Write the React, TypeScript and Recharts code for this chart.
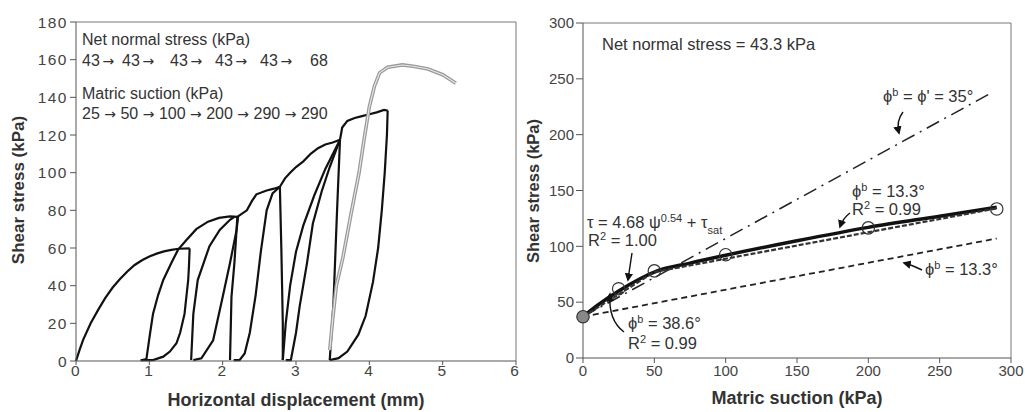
import React from "react";
import {
    LineChart,
    ComposedChart,
    Line,
    Scatter,
    XAxis,
    YAxis,
    ReferenceLine,
} from "recharts";

// ---- left panel: shear stress vs horizontal displacement ----
type P = [number, number];

const dispTicks = [0, 1, 2, 3, 4, 5, 6];
const stressTicks = [0, 20, 40, 60, 80, 100, 120, 140, 160, 180];

const firstLoading: P[] = [
    [0, 0], [0.05, 6], [0.1, 11.5], [0.2, 20], [0.3, 27], [0.4, 33.5], [0.5, 39], [0.6, 43.5],
    [0.7, 47.5], [0.8, 51], [0.9, 53.5], [1.0, 55.5], [1.1, 57], [1.2, 58.2], [1.3, 59], [1.4, 59.6], [1.55, 59.8],
];
const reload1: P[] = [
    [0.9, 0.5], [0.96, 1], [1.0, 12], [1.05, 25], [1.12, 35], [1.19, 43], [1.3, 52], [1.39, 59],
    [1.5, 64], [1.64, 70], [1.8, 74], [1.95, 76], [2.1, 76.8], [2.2, 76.5],
];
const unload1: P[] = [
    [1.55, 59.8], [1.54, 50], [1.53, 43], [1.48, 25], [1.42, 15], [1.37, 9.4], [1.28, 5],
    [1.19, 2.3], [1.05, 0.5], [0.88, 0.5],
];
const reload2: P[] = [
    [1.57, 0.5], [1.6, 25], [1.66, 43], [1.82, 61], [1.96, 69.6], [2.1, 75], [2.16, 76.6],
];
const curve2: P[] = [
    [1.6, 0.5], [1.71, 1.4], [1.87, 11], [2.0, 34], [2.1, 52], [2.19, 69.6], [2.21, 76.5],
];
const reload3: P[] = [
    [2.1, 0.5], [2.12, 34], [2.16, 52], [2.19, 70], [2.2, 76.5], [2.33, 80], [2.4, 85],
    [2.46, 88.5], [2.6, 90.5], [2.7, 91.5], [2.78, 92.5],
];
const curve3: P[] = [
    [2.15, 0.5], [2.23, 0.5], [2.3, 4], [2.37, 15], [2.45, 35], [2.52, 58], [2.6, 80], [2.68, 89], [2.78, 92.5],
];
const drop3: P[] = [[2.78, 92.5], [2.8, 60], [2.82, 20], [2.82, 0.5]];
const reload4: P[] = [
    [2.78, 92.5], [2.85, 97], [2.92, 100], [3.0, 103], [3.1, 106], [3.2, 110], [3.3, 113],
    [3.4, 115], [3.5, 116], [3.6, 117.5],
];
const curve4a: P[] = [
    [2.82, 0.5], [2.86, 20], [2.92, 40], [3.0, 58], [3.1, 72], [3.25, 88], [3.4, 102], [3.6, 117.5],
];
const curve4b: P[] = [
    [2.86, 0.5], [2.93, 0.5], [3.0, 15], [3.05, 29], [3.15, 52], [3.23, 73], [3.35, 90], [3.46, 103], [3.6, 117.5],
];
const drop4: P[] = [[3.6, 117.5], [3.56, 80], [3.51, 30], [3.46, 0.5]];
const reload5: P[] = [
    [3.6, 117.5], [3.63, 124], [3.7, 127.5], [3.8, 129], [3.9, 130], [4.0, 131], [4.1, 132],
    [4.2, 133.3], [4.25, 133],
];
const unload5: P[] = [
    [4.25, 133], [4.24, 120], [4.21, 100], [4.17, 80], [4.12, 60], [4.05, 42], [3.95, 24],
    [3.85, 14], [3.7, 5], [3.58, 1.5], [3.46, 0.5],
];
const finalStage: P[] = [
    [3.46, 5.8], [3.5, 22], [3.55, 40], [3.64, 55], [3.75, 78], [3.86, 100], [3.93, 118],
    [4.0, 135], [4.07, 146], [4.14, 153], [4.25, 156], [4.45, 157.2], [4.6, 156.5],
    [4.8, 155], [5.0, 152], [5.18, 147.5],
];

const blackCurves = [
    firstLoading, reload1, unload1, reload2, curve2, reload3, curve3,
    drop3, reload4, curve4a, curve4b, drop4, reload5, unload5,
];

const normalStress = ["43", "43", "43", "43", "43", "68"];
const suctionSteps = ["25", "50", "100", "200", "290", "290"];

// ---- right panel: shear stress vs matric suction ----
const suctionTicks = [0, 50, 100, 150, 200, 250, 300];
const shearTicks = [0, 50, 100, 150, 200, 250, 300];

const measured: P[] = [[25, 62], [50, 78], [100, 92.5], [200, 116.5], [290, 133.5]];
const saturated: P[] = [[0, 37]];
const powerFit: P[] = [
    [0, 37], [10, 47], [25, 60], [40, 71], [50, 77], [75, 85],
    [100, 92], [150, 105], [200, 117], [250, 127], [290, 135],
];
const bilinearFit: P[] = [[0, 37], [50, 77], [290, 134]];
const phiPrimeLine: P[] = [[0, 37], [287, 238]];
const phiB13Line: P[] = [[0, 37], [290, 107]];

const toPts = (arr: P[]) => arr.map(([x, y]) => ({ x, y }));

const FONT = '"Liberation Sans", Arial, sans-serif';
const ARROW_FONT = '"DejaVu Sans", sans-serif';
const leftTick = { fontSize: 15.5, fill: "#444", fontFamily: FONT, letterSpacing: 1.5 };
const rightTick = { fontSize: 15, fill: "#444", fontFamily: FONT };

function Sup({ children }: { children: React.ReactNode }) {
    return (
        <tspan baselineShift="super" fontSize={11}>
            {children}
        </tspan>
    );
}

function Arr({ wide }: { wide?: boolean }) {
    const gap = wide ? "\u00a0" : "\u2009";
    return <tspan fontFamily={ARROW_FONT} fontSize={14}>{gap + "→" + gap}</tspan>;
}

// x positions of the stress chunks in the note
const stressX = [82, 122, 170, 215, 260, 310];

export default function App() {
    return (
        <div style={{ position: "absolute", left: 0, top: 0, width: 1025, height: 412, background: "#fff" }}>
            <div style={{ position: "absolute", left: 0, top: 0 }}>
                <LineChart width={520} height={412} margin={{ top: 22, right: 4, bottom: 21, left: 30 }}>
                    <XAxis
                        type="number"
                        dataKey="x"
                        domain={[0, 6]}
                        ticks={dispTicks}
                        height={30}
                        stroke="#555"
                        tickSize={4}
                        tickMargin={0}
                        tick={leftTick}
                    />
                    <YAxis
                        type="number"
                        dataKey="y"
                        domain={[0, 180]}
                        ticks={stressTicks}
                        width={46}
                        stroke="#555"
                        tickSize={6}
                        tickMargin={2}
                        tick={leftTick}
                    />
                    <ReferenceLine y={180} stroke="#777" />
                    <ReferenceLine x={6} stroke="#777" />
                    {blackCurves.map((c, i) => (
                        <Line
                            key={i}
                            data={toPts(c)}
                            dataKey="y"
                            type="linear"
                            stroke="#111"
                            strokeWidth={2.2}
                            dot={false}
                            activeDot={false}
                            isAnimationActive={false}
                        />
                    ))}
                    <Line data={toPts(finalStage)} dataKey="y" type="linear" stroke="#9a9a9a" strokeWidth={3.6}
                        dot={false} activeDot={false} isAnimationActive={false} />
                    <Line data={toPts(finalStage)} dataKey="y" type="linear" stroke="#e8e8e8" strokeWidth={1.1}
                        dot={false} activeDot={false} isAnimationActive={false} />
                </LineChart>
            </div>

            <div style={{ position: "absolute", left: 520, top: 0 }}>
                <ComposedChart width={505} height={412} margin={{ top: 23, right: 14, bottom: 24, left: 20 }}>
                    <XAxis
                        type="number"
                        dataKey="x"
                        domain={[0, 300]}
                        ticks={suctionTicks}
                        height={30}
                        stroke="#555"
                        tickSize={5}
                        tickMargin={2}
                        tick={rightTick}
                    />
                    <YAxis
                        type="number"
                        dataKey="y"
                        domain={[0, 300]}
                        ticks={shearTicks}
                        width={43}
                        stroke="#555"
                        tickSize={7}
                        tickMargin={2}
                        tick={rightTick}
                    />
                    <ReferenceLine y={300} stroke="#777" />
                    <ReferenceLine x={300} stroke="#777" />
                    <Line data={toPts(phiPrimeLine)} dataKey="y" type="linear" stroke="#222" strokeWidth={1.5}
                        strokeDasharray="14 6 2 6" dot={false} activeDot={false} isAnimationActive={false} />
                    <Line data={toPts(phiB13Line)} dataKey="y" type="linear" stroke="#222" strokeWidth={1.8}
                        strokeDasharray="6 4" dot={false} activeDot={false} isAnimationActive={false} />
                    <Line data={toPts(powerFit)} dataKey="y" type="monotone" stroke="#111" strokeWidth={3.5}
                        dot={false} activeDot={false} isAnimationActive={false} />
                    <Line data={toPts(bilinearFit)} dataKey="y" type="linear" stroke="#333" strokeWidth={2.2}
                        strokeDasharray="5 2" dot={false} activeDot={false} isAnimationActive={false} />
                    <Scatter
                        data={toPts(measured)}
                        dataKey="y"
                        isAnimationActive={false}
                        shape={(p: any) => (
                            <circle cx={p.cx} cy={p.cy} r={6.2} fill="none" stroke="#333" strokeWidth={1.2} />
                        )}
                    />
                    <Scatter
                        data={toPts(saturated)}
                        dataKey="y"
                        isAnimationActive={false}
                        shape={(p: any) => (
                            <circle cx={p.cx} cy={p.cy} r={6.2} fill="#888" stroke="#333" strokeWidth={1.2} />
                        )}
                    />
                </ComposedChart>
            </div>

            <svg
                width={1025}
                height={412}
                style={{ position: "absolute", left: 0, top: 0, pointerEvents: "none" }}
                fontFamily={FONT}
            >
                <defs>
                    <marker id="ah" viewBox="0 0 10 10" refX="8" refY="5" markerWidth="6" markerHeight="6" orient="auto">
                        <path d="M0,0 L10,5 L0,10 z" fill="#111" />
                    </marker>
                </defs>

                {/* axis titles */}
                <text x={296} y={406} textAnchor="middle" fontSize={18} fontWeight="bold" fill="#333">
                    Horizontal displacement (mm)
                </text>
                <text transform="translate(24,190) rotate(-90)" textAnchor="middle" fontSize={17} fontWeight="bold" fill="#333">
                    Shear stress (kPa)
                </text>
                <text x={797} y={404} textAnchor="middle" fontSize={18} fontWeight="bold" fill="#333">
                    Matric suction (kPa)
                </text>
                <text transform="translate(539,191) rotate(-90)" textAnchor="middle" fontSize={16.5} fontWeight="bold" fill="#333">
                    Shear stress (kPa)
                </text>

                {/* left panel notes */}
                <g fontSize={16} fill="#333">
                    <text x={82} y={45}>Net normal stress (kPa)</text>
                    {normalStress.map((s, i) => (
                        <text key={i} x={stressX[i]} y={66}>
                            {s}
                            {i < normalStress.length - 1 ? <Arr /> : null}
                        </text>
                    ))}
                    <text x={82} y={99}>Matric suction (kPa)</text>
                    <text x={82} y={119}>
                        {suctionSteps.map((s, i) => (
                            <React.Fragment key={i}>
                                {s}
                                {i < suctionSteps.length - 1 ? <Arr wide /> : null}
                            </React.Fragment>
                        ))}
                    </text>
                </g>

                {/* right panel notes */}
                <g fontSize={16.5} fill="#333">
                    <text x={602} y={50}>Net normal stress = 43.3 kPa</text>
                    <text x={883} y={102}>ϕ<Sup>b</Sup> = ϕ' = 35°</text>
                    <text x={852} y={197}>ϕ<Sup>b</Sup> = 13.3°</text>
                    <text x={852} y={215}>R<Sup>2</Sup> = 0.99</text>
                    <text x={587} y={228}>τ = 4.68 ψ<Sup>0.54</Sup> + τ<tspan baselineShift="sub" fontSize={11}>sat</tspan></text>
                    <text x={588} y={246}>R<Sup>2</Sup> = 1.00</text>
                    <text x={628} y={329}>ϕ<Sup>b</Sup> = 38.6°</text>
                    <text x={628} y={349}>R<Sup>2</Sup> = 0.99</text>
                    <text x={925} y={275}>ϕ<Sup>b</Sup> = 13.3°</text>
                </g>

                <g fill="none" stroke="#111" strokeWidth={1.4} markerEnd="url(#ah)">
                    <path d="M903,112 Q896,121 899,133" />
                    <path d="M850,213 Q843,218 840,227" />
                    <path d="M632,253 Q630,266 628,280" />
                    <path d="M624,332 Q608,320 610,294" />
                    <path d="M922,270 Q912,265 904,263" />
                </g>
            </svg>
        </div>
    );
}
